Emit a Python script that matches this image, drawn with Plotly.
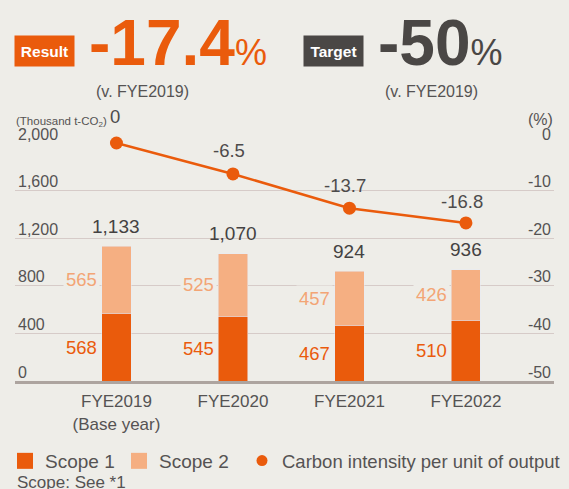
import plotly.graph_objects as go

# --- data -------------------------------------------------------------
years = ["FYE2019<br>(Base year)", "FYE2020", "FYE2021", "FYE2022"]
scope1 = [568, 545, 467, 510]
scope2 = [565, 525, 457, 426]
totals = [1133, 1070, 924, 936]
intensity = [0, -6.5, -13.7, -16.8]
left_ticks = [0, 400, 800, 1200, 1600, 2000]
right_ticks = [0, -10, -20, -30, -40, -50]
result_pct = "-17.4"
target_pct = "-50"
baseline_note = "(v. FYE2019)"

# --- styling ----------------------------------------------------------
ORANGE = "#EA5B0C"
LIGHT = "#F5AF82"
LIGHT_TXT = "#F3A575"
DARK = "#4A4745"
TEXT = "#555353"
BG = "#EEEDE8"
GRID = "#D6CBC8"
AXIS = "#ADA49F"
SANS = "Liberation Sans, Arial, sans-serif"

W, H = 569, 489
ML, MR, MT, MB = 15, 15, 143, 108
PW, PH = W - ML - MR, H - MT - MB


def px_x(px):
    return (px - ML) / PW


def px_y(py):
    return (H - MB - py) / PH


fig = go.Figure()

fig.add_trace(go.Bar(x=years, y=scope1, name="Scope 1", marker_color=ORANGE,
                     width=0.25, showlegend=False))
fig.add_trace(go.Bar(x=years, y=scope2, name="Scope 2", marker_color=LIGHT,
                     width=0.25, showlegend=False))
fig.add_trace(go.Scatter(x=years, y=intensity, yaxis="y2", mode="lines+markers",
                         line=dict(color=ORANGE, width=2.5),
                         marker=dict(color=ORANGE, size=13),
                         cliponaxis=False, showlegend=False))

# legend entries: the two scopes share one legend, the intensity series has its own
fig.add_trace(go.Scatter(x=[None], y=[None], mode="markers", name="Scope 1",
                         legendwidth=69, legend="legend",
                         marker=dict(symbol="square", size=17, color=ORANGE)))
fig.add_trace(go.Scatter(x=[None], y=[None], mode="markers", name="Scope 2",
                         legend="legend",
                         marker=dict(symbol="square", size=17, color=LIGHT)))
fig.add_trace(go.Scatter(x=[None], y=[None], mode="markers",
                         name="Carbon intensity per unit of output",
                         legend="legend2",
                         marker=dict(symbol="circle", size=11, color=ORANGE)))

annotations = []

# vertical offsets of the intensity labels above their points (px)
label_lift = [27, 23, 23, 21]

# segment values to the left of each bar, totals above, intensity above points
for i, yr in enumerate(years):
    annotations.append(dict(x=yr, y=scope1[i] / 2, text=str(scope1[i]),
                            xanchor="right", xshift=-16, showarrow=False,
                            font=dict(family=SANS, size=18.5, color=ORANGE),
                            bgcolor=BG, borderpad=2))
    annotations.append(dict(x=yr, y=scope1[i] + scope2[i] / 2, text=str(scope2[i]),
                            xanchor="right", xshift=-16, showarrow=False,
                            font=dict(family=SANS, size=18.5, color=LIGHT_TXT),
                            bgcolor=BG, borderpad=2))
    annotations.append(dict(x=yr, y=totals[i], text=f"{totals[i]:,}",
                            yshift=20, showarrow=False,
                            font=dict(family=SANS, size=19, color="#444242")))
    v = intensity[i]
    annotations.append(dict(x=yr, y=v, yref="y2", text=f"{v:g}",
                            yshift=label_lift[i], xshift=-4 if v < 0 else -1,
                            showarrow=False,
                            font=dict(family=SANS, size=18.5, color="#4d4b4b")))

# unit labels
annotations.append(dict(xref="paper", yref="paper", x=px_x(14), y=px_y(122),
                        xanchor="left", yanchor="middle", showarrow=False,
                        text="(Thousand t-CO<sub>2</sub>)",
                        font=dict(family=SANS, size=11.5, color=TEXT)))
annotations.append(dict(xref="paper", yref="paper", x=px_x(555), y=px_y(120),
                        xanchor="right", yanchor="middle", showarrow=False,
                        text="(%)", font=dict(family=SANS, size=16, color=TEXT)))

# headline figures
annotations.append(dict(xref="paper", yref="paper", x=px_x(44.5), y=px_y(50.5),
                        xanchor="center", yanchor="middle", showarrow=False,
                        text="<b>Result</b>", bgcolor=ORANGE, width=55, height=26,
                        borderpad=2,
                        font=dict(family=SANS, size=15.5, color="white")))
annotations.append(dict(xref="paper", yref="paper", x=px_x(333.5), y=px_y(50.5),
                        xanchor="center", yanchor="middle", showarrow=False,
                        text="<b>Target</b>", bgcolor=DARK, width=55, height=26,
                        borderpad=2,
                        font=dict(family=SANS, size=15.5, color="white")))
annotations.append(dict(xref="paper", yref="paper", x=px_x(87), y=px_y(43),
                        xanchor="left", yanchor="middle", showarrow=False,
                        text=f"<b>{result_pct}</b><span style='font-size:36px'>%</span>",
                        font=dict(family=SANS, size=64, color=ORANGE)))
annotations.append(dict(xref="paper", yref="paper", x=px_x(376), y=px_y(43),
                        xanchor="left", yanchor="middle", showarrow=False,
                        text=f"<b>{target_pct}</b><span style='font-size:36px'>%</span>",
                        font=dict(family=SANS, size=64, color=DARK)))
annotations.append(dict(xref="paper", yref="paper", x=px_x(142), y=px_y(91),
                        xanchor="center", yanchor="middle", showarrow=False,
                        text=baseline_note, font=dict(family=SANS, size=16, color=TEXT)))
annotations.append(dict(xref="paper", yref="paper", x=px_x(431), y=px_y(91),
                        xanchor="center", yanchor="middle", showarrow=False,
                        text=baseline_note, font=dict(family=SANS, size=16, color=TEXT)))

# footnote
annotations.append(dict(xref="paper", yref="paper", x=px_x(15), y=px_y(482),
                        xanchor="left", yanchor="middle", showarrow=False,
                        text="Scope: See *1", font=dict(family=SANS, size=17, color=TEXT)))

legend_style = dict(orientation="h", xanchor="left", yanchor="top",
                    traceorder="normal", y=px_y(442),
                    bgcolor="rgba(0,0,0,0)", itemsizing="trace")

fig.update_layout(
    width=W, height=H,
    margin=dict(l=ML, r=MR, t=MT, b=MB, autoexpand=False),
    paper_bgcolor=BG, plot_bgcolor=BG,
    barmode="stack",
    showlegend=True,
    legend=dict(x=px_x(5), font=dict(family=SANS, size=19, color=TEXT), **legend_style),
    legend2=dict(x=px_x(242), font=dict(family=SANS, size=18.5, color=TEXT),
                 **legend_style),
    xaxis=dict(range=[-0.871, 3.756], showline=True, linecolor=AXIS, linewidth=3,
               ticks="", showgrid=False, zeroline=False, ticklabelstandoff=3,
               tickfont=dict(family=SANS, size=17, color=TEXT)),
    yaxis=dict(range=[0, 2000], tickvals=left_ticks, tickformat=",",
               showgrid=True, gridcolor=GRID, gridwidth=1, zeroline=False,
               ticklabelposition="inside", ticklabelshift=-9, ticklabeloverflow="allow",
               tickfont=dict(family=SANS, size=16, color=TEXT)),
    yaxis2=dict(range=[-50, 0], tickvals=right_ticks,
                ticktext=[f"{t:d}" for t in right_ticks],
                overlaying="y", side="right",
                showgrid=False, zeroline=False,
                ticklabelposition="inside", ticklabelshift=-9, ticklabeloverflow="allow",
                tickfont=dict(family=SANS, size=16, color=TEXT)),
    annotations=annotations,
)

fig.write_html("out.html")
